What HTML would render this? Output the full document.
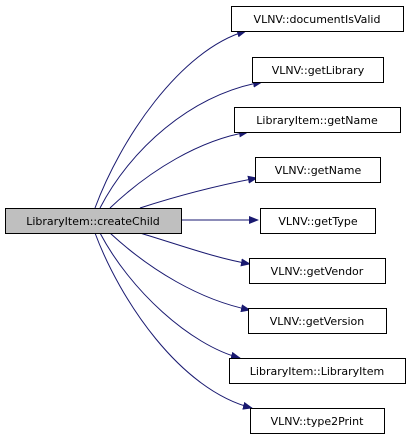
<!DOCTYPE html>
<html><head><style>
body{margin:0;background:#fff;width:411px;height:443px;overflow:hidden}
svg text{font-family:"DejaVu Sans",sans-serif;font-size:11px;fill:#000}
</style></head><body>
<svg width="411" height="443" viewBox="0 0 411 443">
<defs><marker id="a" markerWidth="10" markerHeight="8" refX="9" refY="4" orient="auto" markerUnits="userSpaceOnUse"><path d="M0,0 L10,4 L0,8 Z" fill="#191970"/></marker></defs>
<g fill="none" stroke="#191970" stroke-width="1" marker-end="url(#a)">
<path d="M95,208 C120,140 180,50 246,31"/>
<path d="M100,208 C130,150 190,95 262,82"/>
<path d="M110,208 C150,170 200,140 248,132"/>
<path d="M140,208 C180,195 220,185 257,178"/>
<path d="M181,220 L258,220"/>
<path d="M140,233 C180,245 215,258 250,264"/>
<path d="M110,233 C150,270 200,300 250,310"/>
<path d="M100,233 C130,290 190,345 240,358"/>
<path d="M95,233 C120,300 180,390 252,408"/>
</g>
<g fill="#fff" stroke="#000" stroke-width="1">
<rect x="5.5" y="208.5" width="176" height="25" fill="#bfbfbf"/>
<rect x="231.5" y="6.5" width="172" height="25"/>
<rect x="252.5" y="57.5" width="131" height="25"/>
<rect x="234.5" y="107.5" width="166" height="25"/>
<rect x="255.5" y="157.5" width="125" height="25"/>
<rect x="260.5" y="208.5" width="115" height="25"/>
<rect x="249.5" y="258.5" width="136" height="25"/>
<rect x="248.5" y="308.5" width="138" height="25"/>
<rect x="229.5" y="358.5" width="176" height="25"/>
<rect x="250.5" y="408.5" width="134" height="25"/>
</g>
<g text-anchor="middle">
<text x="93" y="225">LibraryItem::createChild</text>
<text x="317" y="23">VLNV::documentIsValid</text>
<text x="318" y="74">VLNV::getLibrary</text>
<text x="317" y="124">LibraryItem::getName</text>
<text x="318" y="174">VLNV::getName</text>
<text x="318" y="225">VLNV::getType</text>
<text x="317" y="275">VLNV::getVendor</text>
<text x="317" y="325">VLNV::getVersion</text>
<text x="317" y="375">LibraryItem::LibraryItem</text>
<text x="317" y="425">VLNV::type2Print</text>
</g>
</svg>
</body></html>
